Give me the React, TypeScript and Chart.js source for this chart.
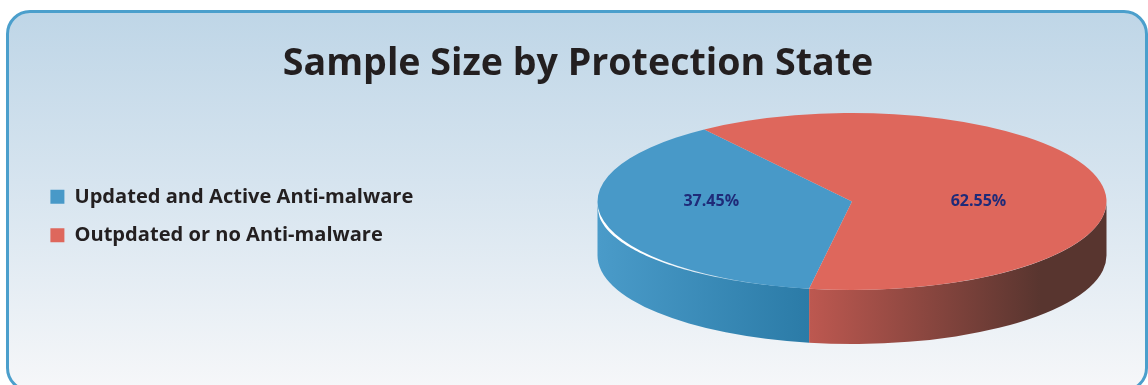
import React, { useEffect, useRef } from "react";
import { Chart, registerables } from "chart.js";

Chart.register(...registerables);

const categories = ["Updated and Active Anti-malware", "Outpdated or no Anti-malware"];
const shares = [37.45, 62.55];
const sliceColors = ["#4899c8", "#de675c"];
const wallStops = [
  [[0, "#4a9bc9"], [1, "#2b7ba7"]],
  [[0, "#bd5850"], [0.78, "#58352f"], [1, "#58352f"]],
];
const labelReach = [0.553, 0.497];

const TITLE = "Sample Size by Protection State";
const FONT = '"Open Sans", sans-serif';
const CENTER_X = 852;
const CENTER_Y = 201.5;
const RADIUS = 254.5;
const TILT = 0.348;
const DEPTH = 54;

// Spans of an arc that face the viewer (the lower half of the ellipse).
function frontSpans(start: number, end: number) {
  const spans: [number, number][] = [];
  for (let k = -1; k <= 2; k++) {
    const a = Math.max(start, 2 * Math.PI * k);
    const b = Math.min(end, 2 * Math.PI * k + Math.PI);
    if (b > a) spans.push([a, b]);
  }
  return spans;
}

// Extrudes the flattened pie: walls first, then the tilted top face, then the labels.
const tiltedPie = {
  id: "tiltedPie",
  beforeDatasetsDraw(chart: any) {
    const { ctx } = chart;
    const arcs = chart.getDatasetMeta(0).data;
    const ry = RADIUS * TILT;

    arcs.forEach((arc: any, i: number) => {
      const { startAngle, endAngle } = arc.getProps(["startAngle", "endAngle"]);
      frontSpans(startAngle, endAngle).forEach(([a, b]) => {
        const xLeft = CENTER_X + RADIUS * Math.cos(b);
        const xRight = CENTER_X + RADIUS * Math.cos(a);
        const grad = ctx.createLinearGradient(xLeft, 0, xRight, 0);
        wallStops[i].forEach(([stop, color]: any) => grad.addColorStop(stop, color));
        ctx.beginPath();
        ctx.ellipse(CENTER_X, CENTER_Y, RADIUS, ry, 0, a, b);
        ctx.ellipse(CENTER_X, CENTER_Y + DEPTH, RADIUS, ry, 0, b, a, true);
        ctx.closePath();
        ctx.fillStyle = grad;
        ctx.fill();
      });
    });

    // Tapered highlight along the near rim of the first slice.
    const from = Math.PI;
    const to = Math.PI * 0.6;
    const steps = 80;
    ctx.beginPath();
    for (let s = 0; s <= steps; s++) {
      const t = s / steps;
      const ang = from + (to - from) * t;
      const swell = 5.2 * Math.pow(1 - t, 1.3) * Math.min(1, t * 9);
      const x = CENTER_X + RADIUS * Math.cos(ang);
      const y = CENTER_Y + ry * Math.sin(ang) + swell;
      if (s === 0) ctx.moveTo(x, y);
      else ctx.lineTo(x, y);
    }
    for (let s = steps; s >= 0; s--) {
      const ang = from + (to - from) * (s / steps);
      ctx.lineTo(CENTER_X + RADIUS * Math.cos(ang), CENTER_Y + ry * Math.sin(ang) - 1);
    }
    ctx.closePath();
    const shine = ctx.createLinearGradient(CENTER_X - RADIUS, 0, CENTER_X + RADIUS * Math.cos(to), 0);
    shine.addColorStop(0, "#ffffff");
    shine.addColorStop(0.3, "#ffffff");
    shine.addColorStop(0.65, "#d5e6f1");
    shine.addColorStop(1, "#7fb6d6");
    ctx.fillStyle = shine;
    ctx.fill();

    const first = arcs[0];
    ctx.save();
    ctx.translate(CENTER_X, CENTER_Y);
    ctx.scale(1, TILT);
    ctx.translate(-first.x, -first.y);
  },
  afterDatasetsDraw(chart: any) {
    const { ctx } = chart;
    ctx.restore();
    const arcs = chart.getDatasetMeta(0).data;
    ctx.font = `bold 16px ${FONT}`;
    ctx.fillStyle = "#1f2a78";
    ctx.textAlign = "center";
    ctx.textBaseline = "middle";
    arcs.forEach((arc: any, i: number) => {
      const { startAngle, endAngle } = arc.getProps(["startAngle", "endAngle"]);
      const mid = (startAngle + endAngle) / 2;
      const x = CENTER_X + Math.sign(Math.cos(mid)) * RADIUS * labelReach[i];
      ctx.fillText(`${shares[i].toFixed(2)}%`, x, CENTER_Y);
    });
  },
};

export default function App() {
  const ref = useRef<HTMLCanvasElement>(null);
  useEffect(() => {
    const chart = new Chart(ref.current!, {
      type: "pie",
      data: {
        labels: categories,
        datasets: [
          {
            data: shares,
            backgroundColor: sliceColors,
            borderWidth: 0,
            radius: RADIUS,
            rotation: 189.7,
            clip: false,
          } as any,
        ],
      },
      plugins: [tiltedPie],
      options: {
        responsive: false,
        animation: false,
        layout: { padding: { left: 32, right: 24, top: 0, bottom: 119 } },
        plugins: {
          tooltip: { enabled: false },
          title: {
            display: true,
            text: TITLE,
            color: "#231f20",
            font: { family: FONT, size: 37.6, weight: "bold" },
            padding: { top: 42, bottom: 79 },
          },
          legend: {
            position: "left",
            align: "center",
            fullSize: false,
            labels: {
              color: "#231f20",
              font: { family: FONT, size: 20.1, weight: "bold" },
              boxWidth: 14,
              boxHeight: 14,
              padding: 18.4,
            },
          },
        },
      },
    } as any);
    return () => chart.destroy();
  }, []);

  return (
    <div style={{ position: "fixed", left: 0, top: 0, width: 1148, height: 385, overflow: "hidden", background: "#fff" }}>
      <div
        style={{
          position: "absolute",
          left: 6,
          top: 10,
          width: 1142,
          height: 382,
          boxSizing: "border-box",
          border: "3px solid #4b9fcc",
          borderRadius: 24,
          background: "linear-gradient(180deg, #bfd6e7 0%, #d6e4ef 45%, #f6f7f9 100%)",
        }}
      />
      <canvas ref={ref} width={1148} height={385} style={{ position: "absolute", left: 0, top: 0 }} />
    </div>
  );
}
